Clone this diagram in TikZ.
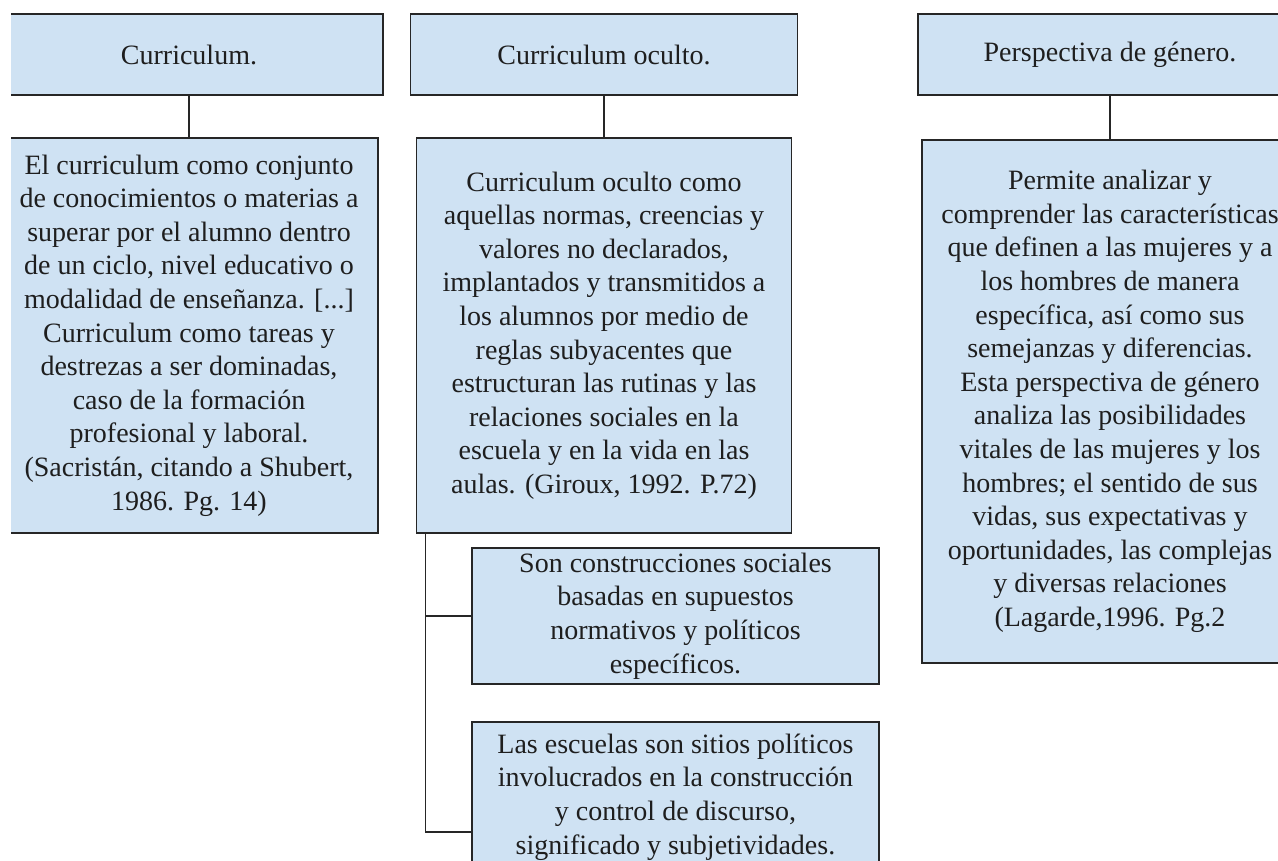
\documentclass[tikz,border=0pt]{standalone}
\usepackage{fontspec}
\setmainfont{Liberation Serif}
\usetikzlibrary{positioning}
\definecolor{boxblue}{HTML}{CFE2F3}
\definecolor{edgegray}{HTML}{262626}
\definecolor{inkgray}{HTML}{1E1E1E}

\begin{document}
\begin{tikzpicture}[x=1pt,y=-1pt,
  cmbox/.style={draw=edgegray,line width=1.5pt,fill=boxblue,inner sep=0pt,align=center,
    text=inkgray,font={\fontsize{28}{33.6}\selectfont}},
  link/.style={draw=edgegray,line width=1.3pt}]
\useasboundingbox (0,0) rectangle (1278,861);
\clip (11,0) rectangle (1278,861);

\node[cmbox,minimum width=388pt,minimum height=81pt] (curr) at (189,54.5) {Curriculum.};
\node[cmbox,minimum width=378pt,minimum height=395pt] (currtxt) at (189,335.5) {El curriculum como conjunto\\de conocimientos o materias a\\superar por el alumno dentro\\de un ciclo, nivel educativo o\\modalidad de enseñanza. [...]\\Curriculum como tareas y\\destrezas a ser dominadas,\\caso de la formación\\profesional y laboral.\\(Sacristán, citando a Shubert,\\1986. Pg. 14)};

\node[cmbox,minimum width=387pt,minimum height=81pt] (oculto) at (604,54.5) {Curriculum oculto.};
\node[cmbox,minimum width=375pt,minimum height=395pt] (ocultotxt) at (604,335.5) {Curriculum oculto como\\aquellas normas, creencias y\\valores no declarados,\\implantados y transmitidos a\\los alumnos por medio de\\reglas subyacentes que\\estructuran las rutinas y las\\relaciones sociales en la\\escuela y en la vida en las\\aulas. (Giroux, 1992. P.72)};

\node[cmbox,minimum width=407pt,minimum height=136pt] (socA) at (675.5,616) {Son construcciones sociales\\basadas en supuestos\\normativos y políticos\\específicos.};
\node[cmbox,minimum width=407pt,minimum height=150pt] (socB) at (675.5,797) {Las escuelas son sitios políticos\\involucrados en la construcción\\y control de discurso,\\significado y subjetividades.};

\node[cmbox,minimum width=384pt,minimum height=81pt] (genero) at (1110,54.5) {Perspectiva de género.};
\node[cmbox,minimum width=376pt,minimum height=523pt] (generotxt) at (1110,401.5) {Permite analizar y\\comprender las características\\que definen a las mujeres y a\\los hombres de manera\\específica, así como sus\\semejanzas y diferencias.\\Esta perspectiva de género\\analiza las posibilidades\\vitales de las mujeres y los\\hombres; el sentido de sus\\vidas, sus expectativas y\\oportunidades, las complejas\\y diversas relaciones\\(Lagarde,1996. Pg.2};

\draw[link] (curr.south) -- (currtxt.north);
\draw[link] (oculto.south) -- (ocultotxt.north);
\draw[link] (genero.south) -- (generotxt.north);

\coordinate (spine) at ([xshift=10pt]ocultotxt.south west);
\draw[link] (spine) |- (socA.west);
\draw[link] (spine) |- ([yshift=-35pt]socB.west);

\end{tikzpicture}
\end{document}
